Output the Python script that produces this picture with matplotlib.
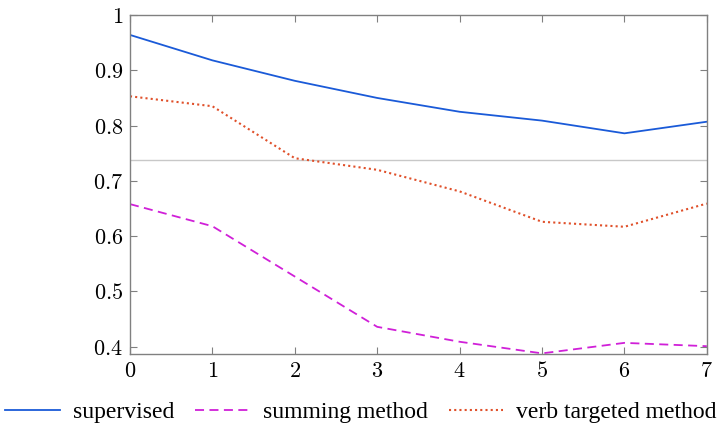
import matplotlib.pyplot as plt

plt.rcParams['mathtext.fontset'] = 'cm'

steps = [0, 1, 2, 3, 4, 5, 6, 7]
supervised = [0.964, 0.918, 0.881, 0.850, 0.825, 0.809, 0.786, 0.807]
summing = [0.658, 0.618, 0.527, 0.436, 0.409, 0.388, 0.407, 0.401]
verb_targeted = [0.853, 0.835, 0.741, 0.720, 0.681, 0.626, 0.617, 0.659]
baseline = 0.738

yticks = [0.4, 0.5, 0.6, 0.7, 0.8, 0.9, 1.0]
yticklabels = ['0.4', '0.5', '0.6', '0.7', '0.8', '0.9', '1']

fig = plt.figure(figsize=(7.22, 4.29), dpi=100)
ax = fig.add_axes([0.18, 0.175, 0.799, 0.79])

ax.axhline(baseline, color='#c8c8c8', lw=1.0)
ax.plot(steps, supervised, color='#1a5ad8', lw=1.3, label='supervised')
ax.plot(steps, summing, color='#d020d8', lw=1.3, ls=(0, (5, 3)), label='summing method')
ax.plot(steps, verb_targeted, color='#e0502a', lw=1.5, ls=(0, (1, 1.5)), label='verb targeted method')

ax.set_xlim(0, 7)
ax.set_ylim(0.387, 1.0)
ax.set_xticks(steps)
ax.set_xticklabels(['$%d$' % s for s in steps])
ax.set_yticks(yticks)
ax.set_yticklabels(['$%s$' % t for t in yticklabels])

for s in ax.spines.values():
    s.set_color('#808080')
    s.set_linewidth(1.0)
ax.tick_params(direction='in', top=True, right=True, length=5, color='#808080',
               labelsize=16, pad=5)

leg = fig.legend(loc='center', bbox_to_anchor=(0.5, 1 - 412 / 429), ncol=3, frameon=False,
                 prop={'family': 'Liberation Serif', 'size': 17}, handlelength=2.3,
                 columnspacing=0.9, handletextpad=0.55, borderpad=0, borderaxespad=0)

fig.savefig('out.png', dpi=100)
